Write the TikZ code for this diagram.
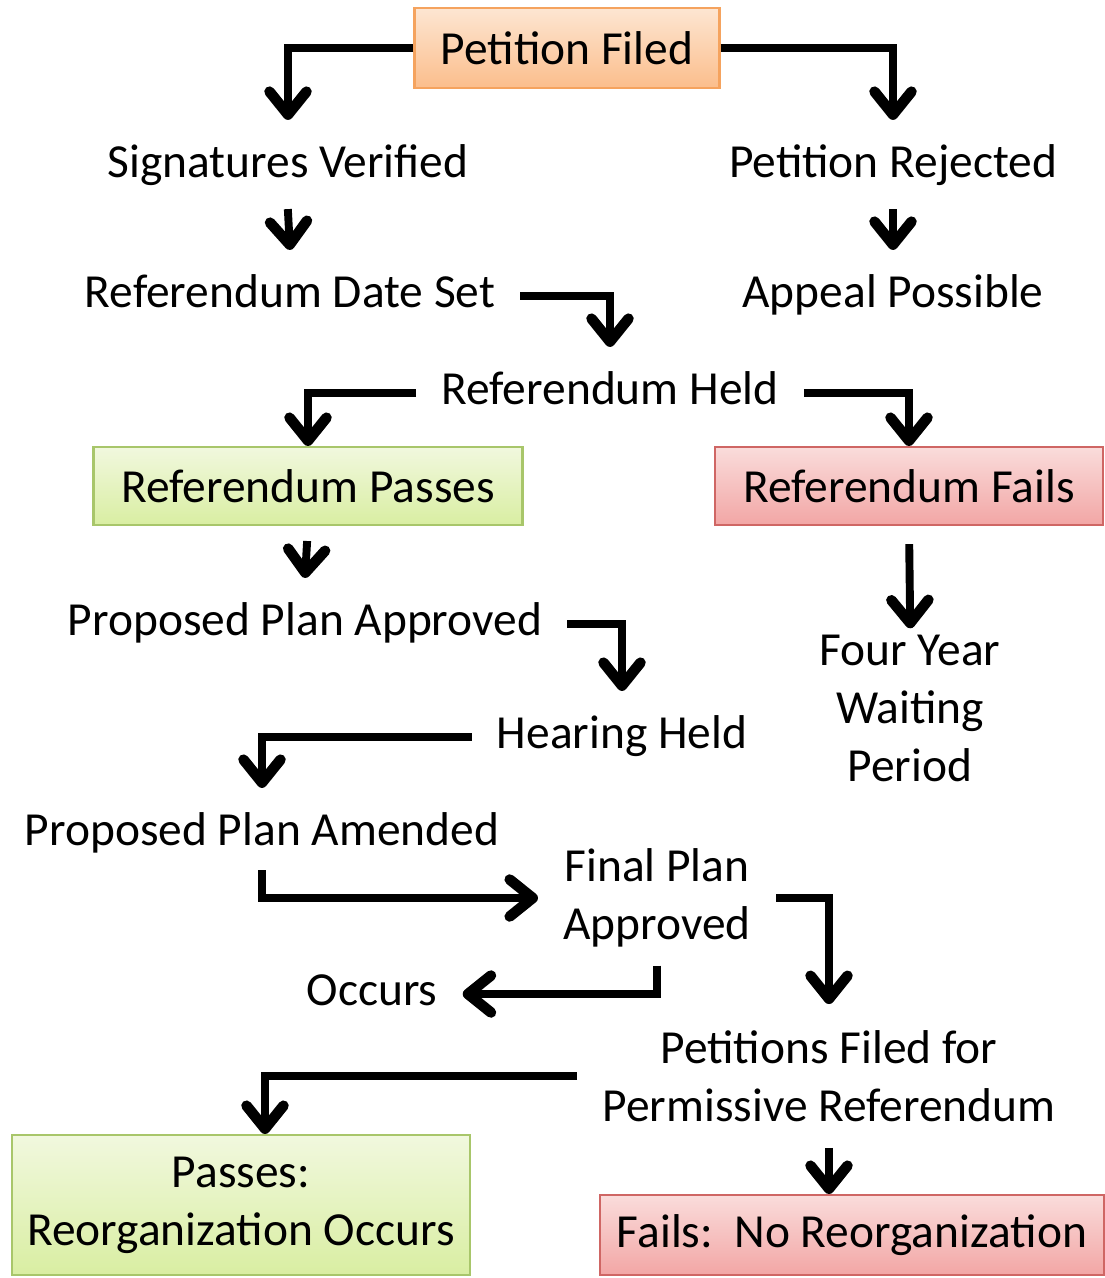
\documentclass[tikz,border=0pt]{standalone}
\usepackage{fontspec}
\setmainfont{Carlito}
\usetikzlibrary{arrows.meta}
\definecolor{filedtop}{HTML}{FDE6D2}
\definecolor{filedbot}{HTML}{FBBE8C}
\definecolor{filedline}{HTML}{F5A35E}
\definecolor{passtop}{HTML}{F1F8DE}
\definecolor{passbot}{HTML}{D9EEA2}
\definecolor{passline}{HTML}{A8C66A}
\definecolor{failtop}{HTML}{FADCDB}
\definecolor{failbot}{HTML}{F2A6A5}
\definecolor{failline}{HTML}{CF6664}
\begin{document}
\begin{tikzpicture}[x=0.02cm,y=-0.02cm,
    every node/.style={font=\fontsize{27}{33}\selectfont},
    lbl/.style={inner xsep=0.5cm,inner ysep=0.52cm,text height=0.62cm,text depth=0.17cm},
    lbltwo/.style={align=center,inner xsep=0.5cm,inner ysep=0.52cm},
    box/.style={line width=1.2pt,minimum height=1.6cm,inner sep=0pt},
    orangebox/.style={box,draw=filedline,top color=filedtop,bottom color=filedbot},
    greenbox/.style={box,draw=passline,top color=passtop,bottom color=passbot},
    redbox/.style={box,draw=failline,top color=failtop,bottom color=failbot},
    arr/.style={line width=4.5pt,-{Straight Barb[length=0.46cm,width=0.74cm,line width=6pt,round]}}]
        \useasboundingbox (0,0) rectangle (1105,1278);
        \node[orangebox,minimum width=6.1cm] (filed) at (567,48) {Petition Filed};
        \node[lbl] (verified) at (288,166) {Signatures Verified};
        \node[lbl] (rejected) at (893,166) {Petition Rejected};
        \node[lbl] (dateset) at (290,296) {Referendum Date Set};
        \node[lbl] (appeal) at (893,296) {Appeal Possible};
        \node[lbl] (held) at (610,393) {Referendum Held};
        \node[greenbox,minimum width=8.58cm,minimum height=1.56cm] (passes) at (308,486) {Referendum Passes};
        \node[redbox,minimum width=7.76cm,minimum height=1.56cm] (fails) at (909,486) {Referendum Fails};
        \node[lbl] (planok) at (305,624) {Proposed Plan Approved};
        \node[lbltwo] (waiting) at (910,708) {Four Year\\Waiting\\Period};
        \node[lbl] (hearing) at (622,737) {Hearing Held};
        \node[lbl] (amended) at (262,834) {Proposed Plan Amended};
        \node[lbltwo] (final) at (657,898) {Final Plan\\Approved};
        \node[lbl] (occurs) at (372,994) {Occurs};
        \node[lbltwo] (permissive) at (829,1076) {Petitions Filed for\\Permissive Referendum};
        \node[greenbox,align=center,minimum width=9.16cm,minimum height=2.8cm] (reorg) at (241,1205) {Passes:\\Reorganization Occurs};
        \node[redbox,minimum width=10.08cm] (noreorg) at (852,1235) {Fails:\ \ No Reorganization};
        \draw[arr] (filed.west) -| (verified.north);
        \draw[arr] (filed.east) -| (rejected.north);
        \draw[arr,shorten <=-0.06cm] (verified.south) -- (dateset.north);
        \draw[arr,shorten <=-0.06cm] (rejected.south) -- (appeal.north);
        \draw[arr] (dateset.east) -| (held.north);
        \draw[arr] (held.west) -| (passes.north);
        \draw[arr] (held.east) -| (fails.north);
        \draw[arr,shorten <=0.3cm] (passes.south) -- (planok.north);
        \draw[arr,shorten <=0.36cm,shorten >=-0.4cm] (fails.south) -- (waiting.north);
        \draw[arr] (planok.east) -| (hearing.north);
        \draw[arr] (hearing.west) -| (amended.north);
        \draw[arr,shorten <=-0.2cm] (amended.south) |- (final.west);
        \draw[arr] (final.east) -| (permissive.north);
        \draw[arr,shorten <=-0.16cm] (final.south) |- (occurs.east);
        \draw[arr] (permissive.west) -| ([xshift=0.48cm]reorg.north);
        \draw[arr] (permissive.south) -- (permissive.south |- noreorg.north);
\end{tikzpicture}
\end{document}
